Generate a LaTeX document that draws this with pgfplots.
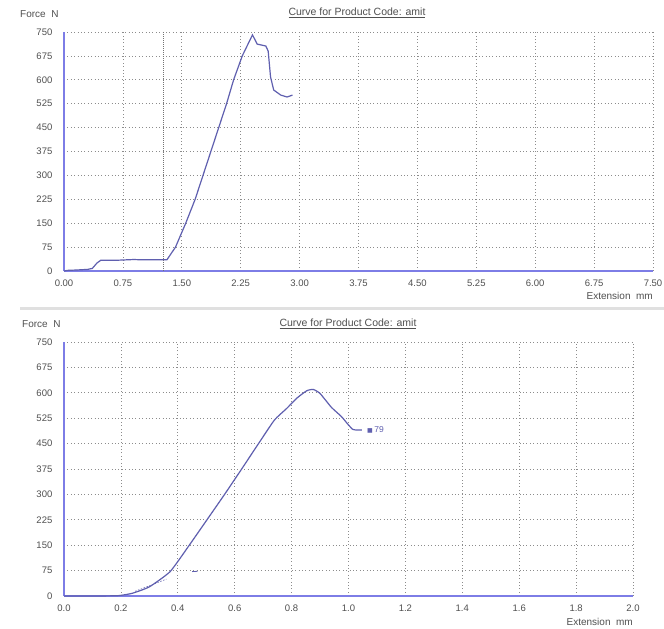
\documentclass[border=0pt]{standalone}
\usepackage{fontspec}
\setmainfont{Liberation Sans}
\newfontfamily\dejavu{DejaVu Sans}
\usepackage{pgfplots}
\pgfplotsset{compat=1.18}
\definecolor{curve}{RGB}{95,95,175}
\definecolor{axisblue}{RGB}{125,125,230}
\definecolor{txt}{RGB}{80,80,80}
\pgfplotsset{mystyle/.style={
  scale only axis,
  axis lines=left,
  axis line style={-, axisblue, line width=1.6pt},
  grid=major,
  major grid style={black!45, line width=0.7pt, dash pattern=on 0.8pt off 2.6pt},
  tick style={draw=none},
  ymin=0, ymax=750, ytick={0,75,150,225,300,375,450,525,600,675,750},
  ticklabel style={font=\fontsize{9.5}{10}\selectfont, text=txt},
  yticklabel style={xshift=-6pt},
  xticklabel style={yshift=-3pt},
  /pgf/number format/assume math mode=true,
  clip=false,
}}
\begin{document}
\begin{tikzpicture}
\path[use as bounding box, fill=white] (0,0) rectangle (664pt,629pt);
% separator band
\fill[black!12] (20pt,319pt) rectangle (664pt,322pt);
% ---------- top chart ----------
\begin{axis}[mystyle, at={(64pt,358pt)}, anchor=south west,
  width=589pt, height=239pt,
  xmin=0, xmax=7.5,
  xtick={0,0.75,1.5,2.25,3,3.75,4.5,5.25,6,6.75,7.5},
  xticklabel style={/pgf/number format/.cd, fixed, fixed zerofill, precision=2},
]
\addplot[black!55, line width=0.8pt, dash pattern=on 0.8pt off 1.2pt] coordinates {(1.26,0) (1.26,750)};
\addplot[curve, line width=1.2pt] coordinates {
(0,0) (0.05,2) (0.15,3) (0.30,5) (0.36,8) (0.42,25) (0.47,34) (0.70,34) (0.89,36) (1.00,35) (1.31,35)
(1.42,75) (1.55,150) (1.67,225) (1.77,300) (1.87,375) (1.97,450) (2.07,525) (2.16,600) (2.27,675)
(2.40,741) (2.46,712) (2.57,706) (2.60,690) (2.63,609) (2.67,568) (2.76,552) (2.84,546) (2.91,552)};
\end{axis}
% ---------- bottom chart ----------
\begin{axis}[mystyle, at={(64pt,33pt)}, anchor=south west,
  width=569pt, height=254pt,
  xmin=0, xmax=2.0,
  xtick={0,0.2,0.4,0.6,0.8,1.0,1.2,1.4,1.6,1.8,2.0},
  xticklabel style={/pgf/number format/.cd, fixed, fixed zerofill, precision=1},
]
\addplot[curve, line width=0.6pt, dash pattern=on 1.5pt off 1.5pt] coordinates {(0.25,14) (0.30,30) (0.36,50)};
\addplot[curve, line width=0.8pt] coordinates {(0.45,72) (0.47,73)};
\addplot[curve, line width=1.2pt, smooth, tension=0.3] coordinates {
(0,0) (0.10,0) (0.19,1) (0.24,8) (0.30,27) (0.373,72) (0.437,146) (0.50,222) (0.566,302)
(0.63,382) (0.69,458) (0.74,520) (0.783,554) (0.818,584) (0.853,606) (0.876,610) (0.90,598)
(0.94,557) (0.975,530) (1.0,505) (1.015,492) (1.03,490) (1.047,490)};
\node[anchor=west, text=curve, font=\fontsize{8.5}{9}\selectfont, inner sep=0pt] at (axis cs:1.065,490) {{\dejavu\fontsize{6}{7}\selectfont ■}\,79};
\end{axis}
% ---------- texts ----------
\node[anchor=west, text=txt, font=\fontsize{10}{11}\selectfont, inner sep=0pt] at (20pt,615pt) {Force\ \ N};
\node[text=txt, font=\fontsize{10.5}{11}\selectfont, inner sep=0pt] at (357pt,616pt) {\underline{Curve for Product Code: amit}};
\node[anchor=east, text=txt, font=\fontsize{10}{11}\selectfont, inner sep=0pt] at (653pt,333pt) {Extension\ \ mm};
\node[anchor=west, text=txt, font=\fontsize{10}{11}\selectfont, inner sep=0pt] at (22pt,305pt) {Force\ \ N};
\node[text=txt, font=\fontsize{10.5}{11}\selectfont, inner sep=0pt] at (348pt,305pt) {\underline{Curve for Product Code: amit}};
\node[anchor=east, text=txt, font=\fontsize{10}{11}\selectfont, inner sep=0pt] at (633pt,7pt) {Extension\ \ mm};
\end{tikzpicture}
\end{document}
